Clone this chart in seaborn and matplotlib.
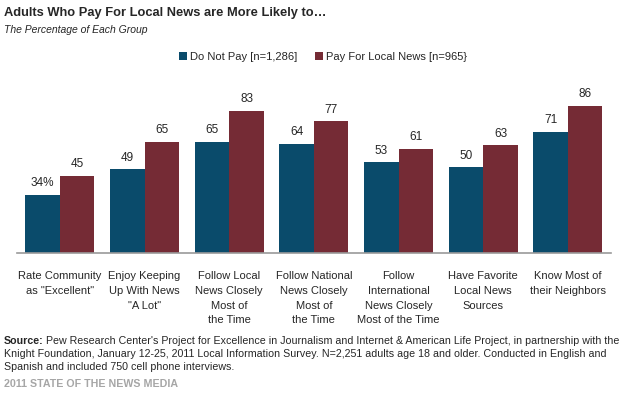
import matplotlib
matplotlib.use("Agg")
import matplotlib.pyplot as plt
import pandas as pd
import seaborn as sns

categories = [
    "Rate Community\nas \"Excellent\"",
    "Enjoy Keeping\nUp With News\n\"A Lot\"",
    "Follow Local\nNews Closely\nMost of\nthe Time",
    "Follow National\nNews Closely\nMost of\nthe Time",
    "Follow\nInternational\nNews Closely\nMost of the Time",
    "Have Favorite\nLocal News\nSources",
    "Know Most of\ntheir Neighbors",
]
series_names = ["Do Not Pay [n=1,286]", "Pay For Local News [n=965}"]
do_not_pay = [34, 49, 65, 64, 53, 50, 71]
pay_local = [45, 65, 83, 77, 61, 63, 86]

colors = ["#0a4b6b", "#752b35"]

df = pd.DataFrame({
    "category": categories * 2,
    "group": [series_names[0]] * len(categories) + [series_names[1]] * len(categories),
    "value": do_not_pay + pay_local,
})

sns.set_style("white")
plt.rcParams["font.family"] = ["Liberation Sans", "DejaVu Sans"]

fig = plt.figure(figsize=(6.21, 3.94), dpi=100)
ax = fig.add_axes([0.027, 0.358, 0.957, 0.434])

sns.barplot(data=df, x="category", y="value", hue="group", palette=colors,
            saturation=1, width=0.815, linewidth=0, ax=ax, legend=True)

ax.set_ylim(0, 100)
ax.set_xlim(-0.51, 6.51)
ax.set_xlabel("")
ax.set_ylabel("")
ax.set_yticks([])
ax.tick_params(axis="x", length=0, pad=13, labelsize=8)
ax.set_xticks(range(len(categories)))
ax.set_xticklabels(categories, linespacing=1.6)
for s in ["top", "left", "right"]:
    ax.spines[s].set_visible(False)
ax.spines["bottom"].set_color("#9a9a9a")
ax.spines["bottom"].set_linewidth(1.2)

for i, cont in enumerate(ax.containers):
    vals = do_not_pay if i == 0 else pay_local
    labs = [str(v) for v in vals]
    if i == 0:
        labs[0] = f"{vals[0]}%"
    ax.bar_label(cont, labels=labs, padding=4, fontsize=8.5)

handles, labels = ax.get_legend_handles_labels()
ax.legend_.remove()
fig.legend(handles, labels, loc="center left", bbox_to_anchor=(0.272, 0.855), ncol=2,
           frameon=False, fontsize=8, handlelength=0.7, handleheight=0.7,
           handletextpad=0.3, columnspacing=1.6)

fig.text(0.006, 0.968, "Adults Who Pay For Local News are More Likely to\u2026",
         fontsize=9.3, fontweight="bold", va="center")
fig.text(0.006, 0.925, "The Percentage of Each Group", fontsize=7.5,
         style="italic", va="center")

src = fig.text(0.006, 0.134, "Source:", fontsize=7.7, fontweight="bold", va="center")
ax.annotate(" Pew Research Center's Project for Excellence in Journalism and Internet & American Life Project, in partnership with the",
            xy=(1, 0.5), xycoords=src, va="center", fontsize=7.7)
fig.text(0.006, 0.101, "Knight Foundation, January 12-25, 2011 Local Information Survey. N=2,251 adults age 18 and older. Conducted in English and",
         fontsize=7.7, va="center")
fig.text(0.006, 0.068, "Spanish and included 750 cell phone interviews.",
         fontsize=7.7, va="center")
fig.text(0.006, 0.025, "2011 STATE OF THE NEWS MEDIA", fontsize=7.7,
         fontweight="bold", color="#a6a6a6", va="center")

fig.savefig("out.png", dpi=100)
